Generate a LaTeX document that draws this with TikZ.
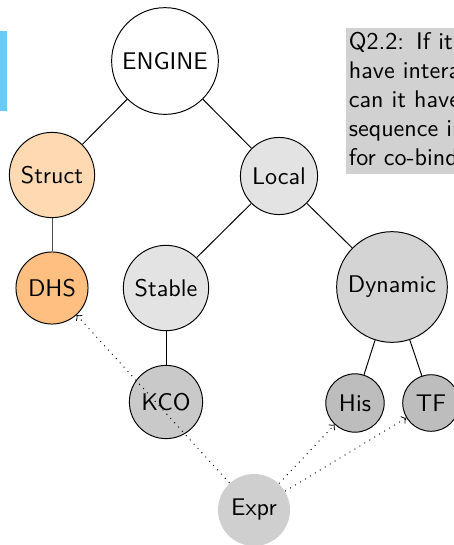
\documentclass[tikz,border=0pt]{standalone}
\usepackage{tikz}

\begin{document}
\begin{tikzpicture}[x=0.415pt,y=-0.415pt,
  topic/.style={circle,draw,font=\sffamily},
  tie/.style={draw},
  hint/.style={dotted,->}]

\useasboundingbox (0,0) rectangle (454,545);
\clip (0,0) rectangle (454,545);

%% side bar and question box
\fill[fill={rgb,255:red,102;green,204;blue,245}] (0,31) rectangle (7,111);
\node[anchor=north west, fill=black!18, inner xsep=1pt, inner ysep=1.5pt,
      text width=150pt, align=left, font=\sffamily] (q) at (346,28)
  {Q2.2: If it does not bind\\ have interactions with\\ can it have a motif or\\ sequence in the genome\\ for co-binding?};

%% vertices
\node[topic, fill=white]   (engine)  at (165,61)  {ENGINE};
\node[topic, fill=orange!30] (struct) at (52,175)  {Struct};
\node[topic, fill=black!11]  (local)  at (279,176) {Local};
\node[topic, fill=orange!50] (dhs)    at (52,288)  {DHS};
\node[topic, fill=black!11]  (stable) at (166,288) {Stable};
\node[topic, fill=black!17]  (dynamic) at (392,287) {Dynamic};
\node[topic, fill=black!21]  (kco)    at (166,402) {KCO};
\node[topic, fill=black!26]  (his)    at (355,403) {His};
\node[topic, fill=black!26]  (tf)     at (431,403) {TF};
\node[topic, draw=none, fill=black!19] (expr) at (254,510) {Expr};

%% tree edges
\draw[tie] (engine) -- (struct);   %% engine struct
\draw[tie] (engine) -- (local);    %% engine local
\draw[tie, black!70] (struct) -- (dhs); %% struct dhs
\draw[tie] (local) -- (stable);    %% local stable
\draw[tie] (local) -- (dynamic);   %% local dynamic
\draw[tie] (stable) -- (kco);      %% stable kco
\draw[tie] (dynamic) -- (his);     %% dynamic his
\draw[tie] (dynamic) -- (tf);      %% dynamic tf

%% expression links
\draw[hint] (expr) -- (dhs);
\draw[hint] (expr) -- (his);
\draw[hint] (expr) -- (tf);
\end{tikzpicture}
\end{document}
